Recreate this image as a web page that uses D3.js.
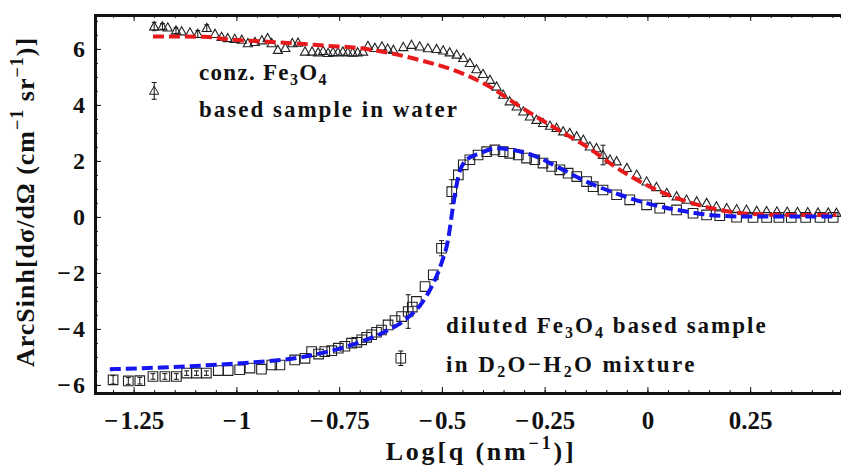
<!DOCTYPE html>
<html>
<head>
<meta charset="utf-8">
<script src="https://cdn.jsdelivr.net/npm/d3@7"></script>
<style>
  body { margin: 0; background: #fff; }
  text { font-family: "Liberation Serif", "Times New Roman", serif; font-weight: bold; fill: #111; }
</style>
</head>
<body>
<div id="chart"></div>
<script>
// conz. Fe3O4 sample (triangles)
const triX = [-1.200,-1.180,-1.167,-1.147,-1.133,-1.113,-1.094,-1.072,-1.052,-1.036,
  -1.021,-1.004,-0.987,-0.972,-0.955,-0.938,-0.924,-0.914,-0.899,-0.881,
  -0.864,-0.850,-0.833,-0.816,-0.801,-0.789,-0.777,-0.765,-0.753,-0.741,
  -0.729,-0.717,-0.705,-0.692,-0.680,-0.663,-0.646,-0.632,-0.618,-0.594,
  -0.574,-0.554,-0.534,-0.513,-0.497,-0.481,-0.464,-0.448,-0.432,-0.416,
  -0.400,-0.383,-0.367,-0.351,-0.335,-0.318,-0.302,-0.286,-0.270,-0.254,
  -0.237,-0.221,-0.205,-0.189,-0.172,-0.156,-0.140,-0.124,-0.108,-0.091,
  -0.075,-0.050,-0.026,-0.002,0.022,0.047,0.071,0.095,0.120,0.144,
  0.168,0.193,0.217,0.241,0.266,0.290,0.315,0.340,0.365,0.390,
  0.415,0.440,0.460];
const triY = [6.80,6.80,6.76,6.65,6.62,6.58,6.53,6.74,6.53,6.42,
  6.38,6.35,6.32,6.20,6.24,6.30,6.38,6.20,5.96,6.03,
  6.20,6.22,5.90,5.90,5.87,5.92,5.85,5.88,5.87,5.90,
  5.87,5.86,5.87,5.90,6.10,6.03,6.08,6.00,5.96,6.06,
  6.14,6.08,6.02,5.99,5.94,5.87,5.79,5.67,5.49,5.27,
  5.10,4.89,4.65,4.36,4.12,3.94,3.76,3.58,3.46,3.35,
  3.25,3.17,3.05,2.99,2.87,2.75,2.51,2.45,2.21,2.04,
  1.98,1.74,1.50,1.26,1.06,0.85,0.73,0.61,0.55,0.49,
  0.37,0.31,0.27,0.25,0.21,0.20,0.19,0.18,0.17,0.16,
  0.15,0.15,0.14];
// points of the triangle series that show an error bar
const triErrX = [-1.200, -1.180, -1.147, -1.094, -1.072, -0.108];
const triErrV = [0.15, 0.10, 0.10, 0.12, 0.12, 0.35];

// diluted Fe3O4 sample (squares)
const sqX = [-1.300,-1.263,-1.235,-1.203,-1.174,-1.146,-1.121,-1.097,-1.073,-1.044,
  -1.020,-0.992,-0.967,-0.939,-0.914,-0.894,-0.858,-0.833,-0.817,-0.800,
  -0.785,-0.768,-0.752,-0.736,-0.720,-0.707,-0.695,-0.683,-0.671,-0.659,
  -0.647,-0.631,-0.614,-0.598,-0.582,-0.572,-0.562,-0.541,-0.521,-0.501,
  -0.476,-0.460,-0.448,-0.432,-0.412,-0.391,-0.371,-0.351,-0.335,-0.314,
  -0.294,-0.274,-0.254,-0.233,-0.213,-0.193,-0.172,-0.148,-0.132,-0.108,
  -0.075,-0.043,-0.002,0.030,0.071,0.111,0.144,0.176,0.217,0.257,
  0.290,0.320,0.350,0.385,0.420,0.452];
const sqY = [-5.82,-5.86,-5.85,-5.70,-5.70,-5.70,-5.58,-5.58,-5.58,-5.49,
  -5.49,-5.46,-5.40,-5.44,-5.29,-5.29,-5.11,-5.05,-4.81,-4.90,
  -4.81,-4.78,-4.69,-4.62,-4.51,-4.48,-4.39,-4.30,-4.21,-4.12,
  -4.04,-3.86,-3.70,-3.56,-3.38,-3.22,-3.02,-2.49,-2.07,-1.12,
  0.90,1.50,1.86,2.04,2.21,2.33,2.39,2.33,2.27,2.21,
  2.10,2.04,1.92,1.80,1.68,1.56,1.44,1.26,1.08,0.96,
  0.79,0.61,0.43,0.31,0.25,0.13,0.07,0.04,-0.01,-0.02,
  -0.02,-0.02,-0.02,-0.02,-0.02,-0.02];
const sqErrX = [-1.300, -1.263, -1.235, -1.203, -1.174, -1.146, -1.121, -1.097, -1.073, -0.582, -0.501, -0.476];
const sqErrV = [0.15, 0.12, 0.12, 0.10, 0.10, 0.10, 0.08, 0.08, 0.08, 0.60, 0.27, 0.43];

// fitted curves
const redFit = [[-1.203,6.44],[-1.150,6.44],[-1.077,6.43],[-1.020,6.34],[-0.940,6.27],[-0.860,6.20],
  [-0.780,6.11],[-0.695,6.02],[-0.630,5.86],[-0.554,5.60],[-0.473,5.25],[-0.391,4.71],[-0.310,3.94],
  [-0.230,3.22],[-0.148,2.51],[-0.067,1.68],[0.014,1.02],[0.095,0.55],[0.176,0.25],[0.257,0.10],
  [0.350,0.07],[0.460,0.07]];
const blueFit = [[-1.308,-5.44],[-1.182,-5.38],[-1.060,-5.29],[-0.939,-5.17],[-0.858,-5.05],[-0.777,-4.81],
  [-0.695,-4.45],[-0.639,-4.10],[-0.590,-3.68],[-0.549,-3.08],[-0.525,-2.49],[-0.501,-1.65],[-0.485,-0.82],
  [-0.473,0.37],[-0.460,1.44],[-0.440,2.04],[-0.408,2.27],[-0.367,2.45],[-0.327,2.39],[-0.270,2.15],
  [-0.213,1.74],[-0.148,1.26],[-0.067,0.79],[0.014,0.43],[0.095,0.19],[0.176,0.04],[0.257,0.01],[0.460,0.01]];

const xTicks = [-1.25, -1, -0.75, -0.5, -0.25, 0, 0.25];
const yTicks = [-6, -4, -2, 0, 2, 4, 6];

const width = 841, height = 466;
const svg = d3.select("#chart").append("svg")
    .attr("width", width)
    .attr("height", height);

const x = d3.scaleLinear().domain([-1.344, 0.471]).range([95, 841]);
const y = d3.scaleLinear().domain([-6.29, 7.21]).range([393, 15]);

const fmt = v => (v < 0 ? "\u2212\u200a" : "") + Math.abs(v);

// minor ticks
svg.append("g").attr("transform", "translate(0,393)")
    .call(d3.axisBottom(x).tickValues(d3.range(-1.3, 0.47, 0.05)).tickSize(-3).tickFormat(""));
svg.append("g").attr("transform", "translate(0,15)")
    .call(d3.axisTop(x).tickValues(d3.range(-1.3, 0.47, 0.05)).tickSize(-3).tickFormat(""));
svg.append("g").attr("transform", "translate(95,0)")
    .call(d3.axisLeft(y).tickValues(d3.range(-6, 7.01, 0.5)).tickSize(-3).tickFormat(""));

// major ticks + labels
const xAxis = svg.append("g").attr("transform", "translate(0,393)")
    .call(d3.axisBottom(x).tickValues(xTicks).tickSize(-6).tickSizeOuter(0).tickPadding(18).tickFormat(fmt));
svg.append("g").attr("transform", "translate(0,15)")
    .call(d3.axisTop(x).tickValues(xTicks).tickSize(-6).tickSizeOuter(0).tickFormat(""));
const yAxis = svg.append("g").attr("transform", "translate(95,0)")
    .call(d3.axisLeft(y).tickValues(yTicks).tickSize(-6).tickSizeOuter(0).tickPadding(10).tickFormat(fmt));

svg.selectAll(".tick line").attr("stroke", "#111");
svg.selectAll(".domain").attr("stroke", "#111").attr("stroke-width", 3);
xAxis.selectAll("text").style("font-size", "25px").style("font-family", "Liberation Serif").style("font-weight", "bold").attr("fill", "#111");
yAxis.selectAll("text").style("font-size", "24px").style("font-family", "Liberation Serif").style("font-weight", "bold").attr("fill", "#111");

// error bars
function errBars(g, xs, vs, allX, allY) {
  const pts = xs.map((xv, i) => ({x: xv, y: allY[allX.indexOf(xv)], e: vs[i]}));
  const eb = g.append("g").attr("stroke", "#111").attr("stroke-width", 1);
  eb.selectAll("line.v").data(pts).enter().append("line")
      .attr("x1", d => x(d.x)).attr("x2", d => x(d.x))
      .attr("y1", d => y(d.y + d.e)).attr("y2", d => y(d.y - d.e));
  eb.selectAll("line.t").data(pts).enter().append("line")
      .attr("x1", d => x(d.x) - 2.5).attr("x2", d => x(d.x) + 2.5)
      .attr("y1", d => y(d.y + d.e)).attr("y2", d => y(d.y + d.e));
  eb.selectAll("line.b").data(pts).enter().append("line")
      .attr("x1", d => x(d.x) - 2.5).attr("x2", d => x(d.x) + 2.5)
      .attr("y1", d => y(d.y - d.e)).attr("y2", d => y(d.y - d.e));
}

const tri = "M0,-4.8L4.6,3.4L-4.6,3.4Z";
const sq = "M-4.8,-4.8H4.8V4.8H-4.8Z";

const marks = svg.append("g");
marks.selectAll("path.tri").data(triX.map((v, i) => [v, triY[i]])).enter().append("path")
    .attr("d", tri)
    .attr("transform", d => `translate(${x(d[0])},${y(d[1])})`)
    .attr("fill", "none").attr("stroke", "#222").attr("stroke-width", 1.1);
marks.selectAll("path.sq").data(sqX.map((v, i) => [v, sqY[i]])).enter().append("path")
    .attr("d", sq)
    .attr("transform", d => `translate(${x(d[0])},${y(d[1])})`)
    .attr("fill", "none").attr("stroke", "#222").attr("stroke-width", 1.1);
errBars(marks, triErrX, triErrV, triX, triY);
errBars(marks, sqErrX, sqErrV, sqX, sqY);

// fit lines
const line = d3.line().x(d => x(d[0])).y(d => y(d[1])).curve(d3.curveMonotoneX);
svg.append("path").datum(redFit).attr("d", line)
    .attr("fill", "none").attr("stroke", "#e8191b").attr("stroke-width", 4).attr("stroke-dasharray", "11,5");
svg.append("path").datum(blueFit).attr("d", line)
    .attr("fill", "none").attr("stroke", "#1616ee").attr("stroke-width", 4).attr("stroke-dasharray", "11,5");

// legend markers
const legendPts = [{x: -1.2, y: 4.5, e: 0.3, d: tri}, {x: -0.6, y: -5.05, e: 0.26, d: sq}];
legendPts.forEach(p => {
  const g = svg.append("g");
  g.append("path").attr("d", p.d).attr("transform", `translate(${x(p.x)},${y(p.y)})`)
      .attr("fill", "none").attr("stroke", "#222");
  errBars(g, [p.x], [p.e], [p.x], [p.y]);
});

// texts with sub/superscripts; an object part is {t, sub}
function richText(xp, yp, parts, size) {
  const t = svg.append("text").attr("x", xp).attr("y", yp).style("font-size", size + "px");
  let shift = 0;
  parts.forEach(p => {
    const s = t.append("tspan");
    if (typeof p === "string") {
      s.text(p);
      if (shift) s.attr("dy", -shift);
      shift = 0;
    } else {
      const off = p.sub ? Math.round(size * 0.22) : -Math.round(size * 0.42);
      s.attr("dy", off - shift).style("font-size", Math.round(size * 0.7) + "px").text(p.t);
      shift = off;
    }
  });
  return t;
}
richText(199, 80, ["conz. Fe", {t: "3", sub: true}, "O", {t: "4", sub: true}], 23).style("letter-spacing", "1.3px");
richText(199, 117, ["based sample in water"], 23).style("letter-spacing", "2px");
richText(446, 333, ["diluted Fe", {t: "3", sub: true}, "O", {t: "4", sub: true}, " based sample"], 23).style("letter-spacing", "2px");
richText(446, 372, ["in D", {t: "2", sub: true}, "O\u2212H", {t: "2", sub: true}, "O mixture"], 23).style("letter-spacing", "2.4px");

// axis labels
richText(481, 460, ["Log[q (nm", {t: "\u22121", sub: false}, ")]"], 26)
    .attr("text-anchor", "middle").style("letter-spacing", "2.8px");
richText(0, 0, ["ArcSinh[d\u03c3/d\u03a9 (cm", {t: "\u22121", sub: false}, " sr", {t: "\u22121", sub: false}, ")]"], 26)
    .attr("text-anchor", "middle").style("letter-spacing", "1px")
    .attr("transform", "translate(34,202) rotate(-90)");
</script>
</body>
</html>
